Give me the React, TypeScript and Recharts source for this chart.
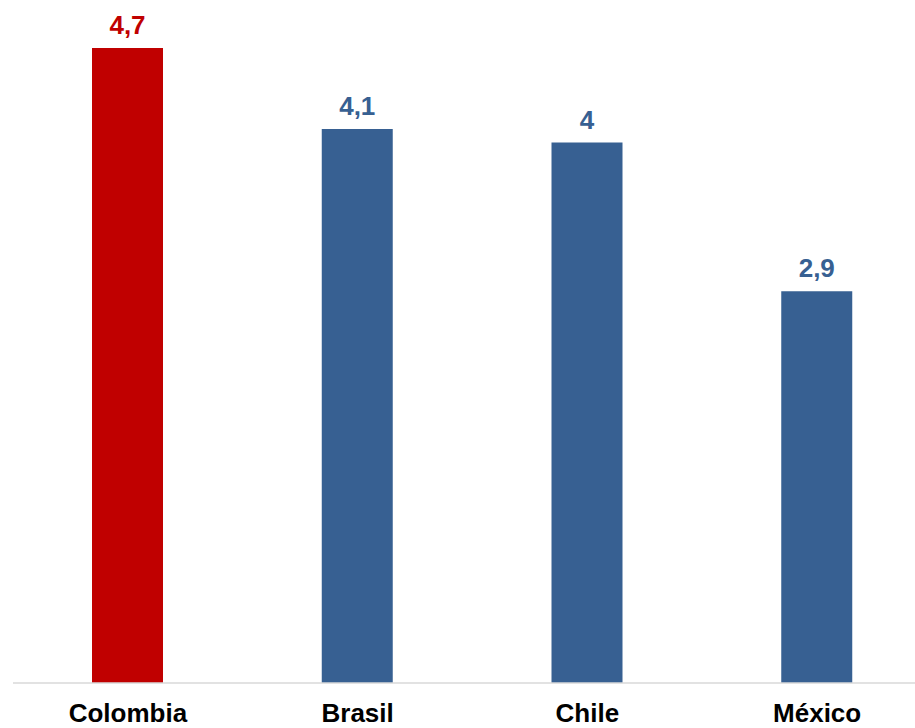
import React from 'react';
import { BarChart, Bar, XAxis, YAxis, Cell, LabelList } from 'recharts';

const countries = ['Colombia', 'Brasil', 'Chile', 'México'];
const values = [4.7, 4.1, 4, 2.9];
const barColors = ['#C00000', '#376092', '#376092', '#376092'];

const data = countries.map((name, i) => ({ name, value: values[i], color: barColors[i] }));

const FONT = '"Liberation Sans", Arial, sans-serif';

// etiqueta de valor encima de cada barra, con coma decimal
const renderValue = (props: any) => {
  const { x, y, width, value, index } = props;
  return (
    <text
      x={x + width / 2}
      y={y - 14}
      textAnchor="middle"
      fill={barColors[index]}
      fontFamily={FONT}
      fontWeight="bold"
      fontSize={26}
    >
      {String(value).replace('.', ',')}
    </text>
  );
};

const App: React.FC = () => {
  return (
    <div style={{ position: 'absolute', left: 8, top: 8, width: 907, height: 720, overflow: 'hidden' }}>
      <BarChart
        width={924}
        height={720}
        data={data}
        margin={{ top: 40, right: 0, left: 5, bottom: 0 }}
      >
        <XAxis
          dataKey="name"
          stroke="#D9D9D9"
          strokeWidth={1.5}
          tickLine={false}
          tickSize={6}
          tickMargin={15}
          height={45}
          interval={0}
          tick={{ fill: '#000', fontFamily: FONT, fontWeight: 'bold', fontSize: 26 }}
        />
        <YAxis hide domain={[0, 4.7]} />
        <Bar dataKey="value" barSize={71} isAnimationActive={false}>
          {data.map((d, i) => (
            <Cell key={`cell-${i}`} fill={d.color} />
          ))}
          <LabelList dataKey="value" content={renderValue} />
        </Bar>
      </BarChart>
    </div>
  );
};

export default App;
